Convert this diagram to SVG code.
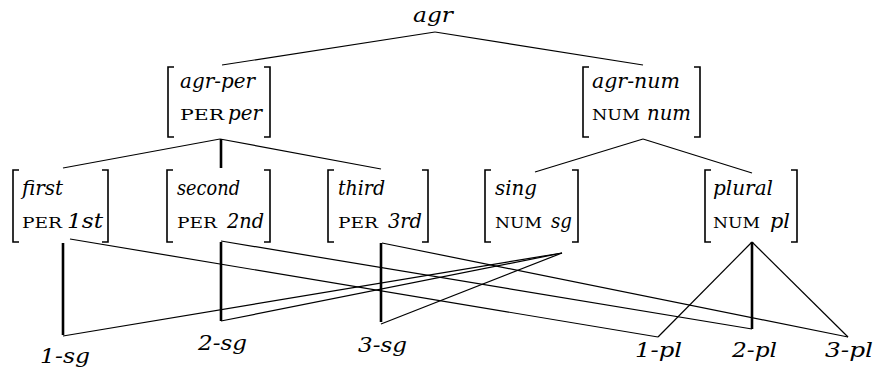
<svg xmlns="http://www.w3.org/2000/svg" width="877" height="373" viewBox="0 0 877 373">
<style>
text{font-family:"DejaVu Serif","Liberation Serif","Times New Roman",Times,serif;fill:#000}
.it{font-style:italic;font-size:21px}
.sc{font-size:15px}
.br{fill:none;stroke:#000;stroke-width:1.6}
.thin{fill:none;stroke:#000;stroke-width:1.2}
.thick{fill:none;stroke:#000;stroke-width:2.6}
</style>
<rect width="877" height="373" fill="#fff"/>
<g id="connectors">
<line class="thin" x1="435" y1="32" x2="222" y2="65"/>
<line class="thin" x1="435" y1="32" x2="643" y2="65"/>
<line class="thin" x1="220" y1="139" x2="63" y2="168"/>
<line class="thick" x1="221" y1="139" x2="221" y2="168"/>
<line class="thin" x1="220" y1="139" x2="381" y2="169"/>
<line class="thin" x1="643" y1="139" x2="535" y2="172"/>
<line class="thin" x1="643" y1="139" x2="752" y2="173"/>
<line class="thick" x1="63" y1="243" x2="63" y2="335"/>
<line class="thick" x1="221" y1="242" x2="221" y2="321"/>
<line class="thick" x1="381" y1="243" x2="381" y2="322"/>
<line class="thick" x1="752" y1="242" x2="752" y2="329"/>
<line class="thin" x1="562" y1="253" x2="63" y2="336"/>
<line class="thin" x1="562" y1="253" x2="221" y2="321"/>
<line class="thin" x1="562" y1="253" x2="381" y2="324"/>
<line class="thin" x1="70" y1="239" x2="658" y2="337"/>
<line class="thin" x1="221" y1="241" x2="752" y2="329"/>
<line class="thin" x1="382" y1="243" x2="848" y2="337"/>
<line class="thin" x1="752" y1="242" x2="658" y2="337"/>
<line class="thin" x1="752" y1="242" x2="848" y2="337"/>
</g>
<g id="agr">
<text class="it" x="433" y="22" text-anchor="middle" textLength="40" lengthAdjust="spacingAndGlyphs">agr</text>
</g>
<g id="agr-per">
<path class="br" d="M174,67 H168 V137 H174 M264,67 H270 V137 H264"/>
<text class="it" x="180" y="88" textLength="75" lengthAdjust="spacingAndGlyphs">agr-per</text>
<text class="sc" x="180" y="120" textLength="44" lengthAdjust="spacingAndGlyphs">PER</text>
<text class="it" x="228" y="120" textLength="34" lengthAdjust="spacingAndGlyphs">per</text>
</g>
<g id="agr-num">
<path class="br" d="M589,67 H583 V137 H589 M694,67 H700 V137 H694"/>
<text class="it" x="592" y="88" textLength="88" lengthAdjust="spacingAndGlyphs">agr-num</text>
<text class="sc" x="592" y="120" textLength="48" lengthAdjust="spacingAndGlyphs">NUM</text>
<text class="it" x="647" y="120" textLength="44" lengthAdjust="spacingAndGlyphs">num</text>
</g>
<g id="first">
<path class="br" d="M19,170 H13 V242 H19 M102,170 H108 V242 H102"/>
<text class="it" x="22" y="195" textLength="41" lengthAdjust="spacingAndGlyphs">first</text>
<text class="sc" x="22" y="228" textLength="40" lengthAdjust="spacingAndGlyphs">PER</text>
<text class="it" x="67" y="228" textLength="36" lengthAdjust="spacingAndGlyphs">1st</text>
</g>
<g id="second">
<path class="br" d="M173,170 H167 V242 H173 M264,170 H270 V242 H264"/>
<text class="it" x="177" y="195" textLength="63" lengthAdjust="spacingAndGlyphs">second</text>
<text class="sc" x="177" y="228" textLength="40" lengthAdjust="spacingAndGlyphs">PER</text>
<text class="it" x="227" y="228" textLength="37" lengthAdjust="spacingAndGlyphs">2nd</text>
</g>
<g id="third">
<path class="br" d="M334,170 H328 V242 H334 M422,170 H428 V242 H422"/>
<text class="it" x="338" y="195" textLength="47" lengthAdjust="spacingAndGlyphs">third</text>
<text class="sc" x="338" y="228" textLength="40" lengthAdjust="spacingAndGlyphs">PER</text>
<text class="it" x="388" y="228" textLength="34" lengthAdjust="spacingAndGlyphs">3rd</text>
</g>
<g id="sing">
<path class="br" d="M491,170 H485 V242 H491 M572,170 H578 V242 H572"/>
<text class="it" x="495" y="195" textLength="42" lengthAdjust="spacingAndGlyphs">sing</text>
<text class="sc" x="495" y="228" textLength="47" lengthAdjust="spacingAndGlyphs">NUM</text>
<text class="it" x="551" y="228" textLength="21" lengthAdjust="spacingAndGlyphs">sg</text>
</g>
<g id="plural">
<path class="br" d="M711,170 H705 V242 H711 M791,170 H797 V242 H791"/>
<text class="it" x="713" y="195" textLength="60" lengthAdjust="spacingAndGlyphs">plural</text>
<text class="sc" x="713" y="228" textLength="47" lengthAdjust="spacingAndGlyphs">NUM</text>
<text class="it" x="770" y="228" textLength="20" lengthAdjust="spacingAndGlyphs">pl</text>
</g>
<g id="n1-sg"><text class="it" x="40" y="363" textLength="50" lengthAdjust="spacingAndGlyphs">1-sg</text></g>
<g id="n2-sg"><text class="it" x="198" y="350" textLength="49" lengthAdjust="spacingAndGlyphs">2-sg</text></g>
<g id="n3-sg"><text class="it" x="358" y="352" textLength="49" lengthAdjust="spacingAndGlyphs">3-sg</text></g>
<g id="n1-pl"><text class="it" x="635" y="357" textLength="47" lengthAdjust="spacingAndGlyphs">1-pl</text></g>
<g id="n2-pl"><text class="it" x="732" y="357" textLength="45" lengthAdjust="spacingAndGlyphs">2-pl</text></g>
<g id="n3-pl"><text class="it" x="825" y="357" textLength="48" lengthAdjust="spacingAndGlyphs">3-pl</text></g>
</svg>
